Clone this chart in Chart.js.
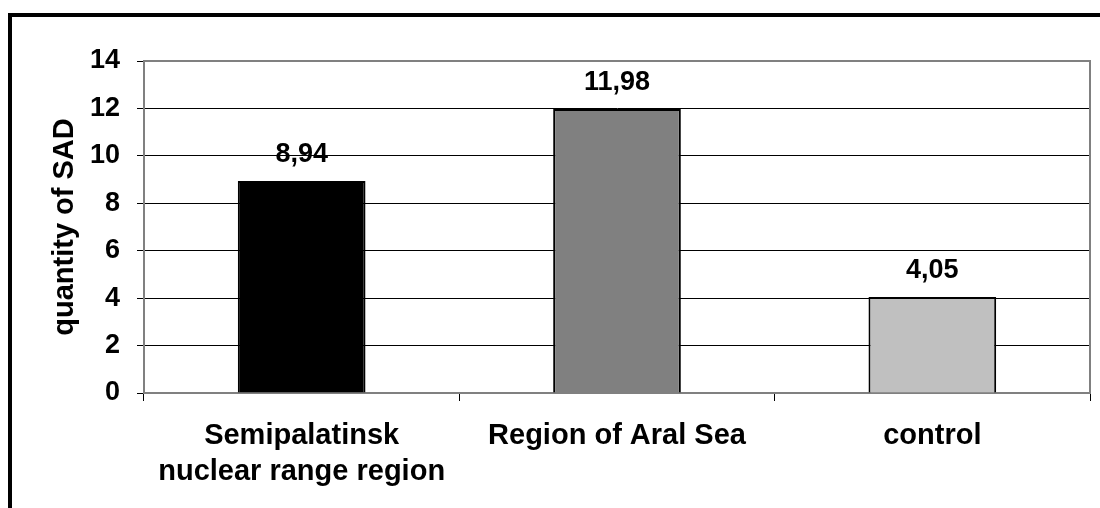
<!DOCTYPE html>
<html>
<head>
<meta charset="utf-8">
<script src="https://cdn.jsdelivr.net/npm/chart.js@4.4.1/dist/chart.umd.min.js"></script>
<style>
  html, body { margin: 0; padding: 0; background: #fff; overflow: hidden; }
  #wrap { position: relative; width: 1100px; height: 508px; }
  #frame { position: absolute; left: 8px; top: 13px; width: 1200px; height: 600px;
           border: 4px solid #000; box-sizing: border-box; }
  canvas { position: absolute; left: 0; top: 0; }
</style>
</head>
<body>
<div id="wrap">
  <div id="frame"></div>
  <canvas id="barChart" width="1100" height="508"></canvas>
</div>
<script>
// categories and values
var regions = [["Semipalatinsk", "nuclear range region"], "Region of Aral Sea", "control"];
var sadValues = [8.94, 11.98, 4.05];
var barColors = ["#000000", "#808080", "#c0c0c0"];
var valueLabels = ["8,94", "11,98", "4,05"];

var font = "'Liberation Sans', Arial, sans-serif";

// draws the grey plot frame and the numbers over the bars
var extras = {
  id: "extras",
  afterDraw: function(chart) {
    var ctx = chart.ctx;
    var a = chart.chartArea;
    ctx.save();
    ctx.strokeStyle = "#808080";
    ctx.lineWidth = 2;
    ctx.beginPath();
    ctx.moveTo(a.left, a.bottom);
    ctx.lineTo(a.left, a.top);
    ctx.lineTo(a.right, a.top);
    ctx.lineTo(a.right, a.bottom);
    ctx.stroke();
    ctx.fillStyle = "#000";
    ctx.font = "bold 27px " + font;
    ctx.textAlign = "center";
    ctx.textBaseline = "alphabetic";
    chart.getDatasetMeta(0).data.forEach(function(bar, i) {
      ctx.fillText(valueLabels[i], bar.x, bar.y - 19);
    });
    ctx.restore();
  }
};

var barChart = new Chart(document.getElementById("barChart"), {
  type: "bar",
  data: {
    labels: regions,
    datasets: [{
      data: sadValues,
      backgroundColor: barColors,
      borderColor: "#000",
      borderWidth: 2,
      categoryPercentage: 1,
      barPercentage: 0.405
    }]
  },
  options: {
    responsive: false,
    animation: false,
    layout: { padding: { left: 48, top: 61, right: 10, bottom: 0 } },
    plugins: { legend: { display: false }, tooltip: { enabled: false } },
    scales: {
      x: {
        afterFit: function(s) { s.height = 115; },
        grid: { display: true, drawOnChartArea: false, color: "#000", tickLength: 8, offset: true },
        border: { color: "#808080", width: 2 },
        ticks: { color: "#000", padding: 17, font: { family: font, size: 29, weight: "bold", lineHeight: 1.24 } }
      },
      y: {
        min: 0,
        max: 14,
        afterFit: function(s) { s.width = 96; },
        grid: { color: "#000", lineWidth: 1, tickLength: 7 },
        border: { color: "#808080", width: 2 },
        ticks: { stepSize: 2, color: "#000", padding: 17, font: { family: font, size: 27, weight: "bold" } },
        title: { display: true, text: "quantity of SAD", color: "#000", padding: 0,
                 font: { family: font, size: 29, weight: "bold" } }
      }
    }
  },
  plugins: [extras]
});
</script>
</body>
</html>
